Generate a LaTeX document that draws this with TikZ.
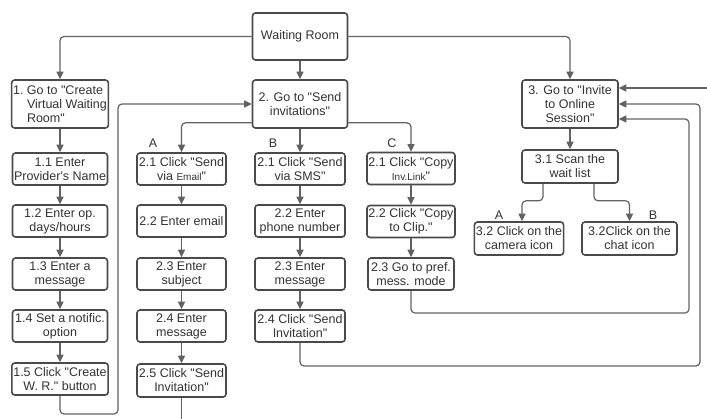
\documentclass[tikz,border=0pt]{standalone}
\usepackage{fontspec}
\setmainfont{Liberation Sans}
\usepackage{xcolor}
\usepackage{tikz}
\usetikzlibrary{arrows.meta}
\usetikzlibrary{calc}
\usetikzlibrary{positioning}
\definecolor{boxgray}{HTML}{4A4A4A}
\definecolor{linegray}{HTML}{626262}
\tikzset{
    bignode/.style = {rectangle, rounded corners=3pt, draw=boxgray, line width=1.6pt, align=center, fill=white, text=black!80, minimum width=95pt, minimum height=48pt, inner sep=1.5pt},
    stepnode/.style = {rectangle, rounded corners=3pt, draw=boxgray, line width=1.6pt, align=center, fill=white, text=black!80, minimum height=32pt, inner sep=1.5pt},
    lbl/.style = {text=black!80},
}
\newcommand{\smalltxt}[1]{{\fontsize{10}{14}\selectfont #1}}
\newcommand{\qq}{\textquotedbl}
\newcommand{\ap}{\textquotesingle}

\begin{document}
\begin{tikzpicture}[
	x=1pt, y=-1pt,
	font=\fontsize{12.5}{14}\selectfont,
	>={Triangle[length=7.5pt,width=7pt]}
]
\tikzset{
    edgea/.style = {->, line width=1.2pt, draw=linegray, rounded corners=4pt},
    edgen/.style = {-, line width=1.2pt, draw=linegray, rounded corners=4pt},
}
\useasboundingbox (0,0) rectangle (707,418);
\node[bignode, minimum height=47pt] at (300,36.5) (wr) {Waiting Room};
\node[bignode, minimum width=96pt, align=left] at (60,104) (s1) {1.~Go to \qq Create\\\phantom{1.~}Virtual Waiting\\\phantom{1.~}Room\qq};
\node[bignode] at (300,104) (s2) {2. Go to \qq Send\\invitations\qq};
\node[bignode, minimum width=96pt] at (570,104) (s3) {3. Go to \qq Invite\\to Online\\Session\qq};
%
\node[stepnode, minimum width=95pt] at (60,169) (s11) {1.1 Enter\\Provider\ap s Name};
\node[stepnode, minimum width=95pt] at (60,221) (s12) {1.2 Enter op.\\days/hours};
\node[stepnode, minimum width=95pt] at (60,274) (s13) {1.3 Enter a\\message};
\node[stepnode, minimum width=95pt] at (60,326) (s14) {1.4 Set a notific.\\option};
\node[stepnode, minimum width=95pt] at (60,379) (s15) {1.5 Click \qq Create\\W. R.\qq\ button};
%
\node[stepnode, minimum width=89pt] at (181.5,169) (a1) {2.1 Click \qq Send\\via \smalltxt{Email}\qq};
\node[stepnode, minimum width=89pt] at (181.5,221) (a2) {2.2 Enter email};
\node[stepnode, minimum width=89pt] at (181.5,274) (a3) {2.3 Enter\\subject};
\node[stepnode, minimum width=89pt] at (181.5,326) (a4) {2.4 Enter\\message};
\node[stepnode, minimum width=89pt, minimum height=33pt] at (181.5,380.5) (a5) {2.5 Click \qq Send\\Invitation\qq};
%
\node[stepnode, minimum width=90pt] at (300,169) (b1) {2.1 Click \qq Send\\via SMS\qq};
\node[stepnode, minimum width=90pt] at (300,221) (b2) {2.2 Enter\\phone number};
\node[stepnode, minimum width=90pt] at (300,274) (b3) {2.3 Enter\\message};
\node[stepnode, minimum width=90pt] at (300,326) (b4) {2.4 Click \qq Send\\Invitation\qq};
%
\node[stepnode, minimum width=86pt] at (411,168.5) (c1) {2.1 Click \qq Copy\\\smalltxt{Inv.Link}\qq};
\node[stepnode, minimum width=86pt] at (411,221.5) (c2) {2.2 Click \qq Copy\\to Clip.\qq};
\node[stepnode, minimum width=86pt] at (411,274) (c3) {2.3 Go to pref.\\mess. mode};
%
\node[stepnode, minimum width=96pt, minimum height=33pt] at (570,166.5) (s31) {3.1 Scan the\\wait list};
\node[stepnode, minimum width=88pt, minimum height=33pt] at (519,238.5) (s32a) {3.2 Click on the\\camera icon};
\node[stepnode, minimum width=95pt, minimum height=33pt] at (629.5,238.5) (s32b) {3.2Click on the\\chat icon};
%
\node[lbl] at (153,143) (la) {A};
\node[lbl] at (273,143) (lb) {B};
\node[lbl] at (392,143) (lc) {C};
\node[lbl] at (499,215) (la3) {A};
\node[lbl] at (653,215) (lb3) {B};
%
\coordinate (back1) at (118,414);
\coordinate (offA) at (181.5,419);
\coordinate (ret2) at (700,366);
\coordinate (ret3) at (689,313);
\coordinate (offR) at (708,88);
%
\draw[edgea] (wr.west) -| (s1.north);
\draw[edgea] (wr.east) -| (s3.north);
\draw[edgea] (wr) -- (s2);
%
\draw[edgea] (s1) -- (s11);
\draw[edgea] (s11) -- (s12);
\draw[edgea] (s12) -- (s13);
\draw[edgea] (s13) -- (s14);
\draw[edgea] (s14) -- (s15);
\draw[edgea] (s15.south) |- (back1) |- (s2.west);
%
\draw[edgea] ($(s2.south west)+(0,-6)$) -| (a1.north);
\draw[edgea] (s2) -- (b1);
\draw[edgea] ($(s2.south east)+(0,-6)$) -| (c1.north);
%
\draw[edgea] (a1) -- (a2);
\draw[edgea] (a2) -- (a3);
\draw[edgea] (a3) -- (a4);
\draw[edgea] (a4) -- (a5);
\draw[edgen] (a5.south) -- (offA);
%
\draw[edgea] (b1) -- (b2);
\draw[edgea] (b2) -- (b3);
\draw[edgea] (b3) -- (b4);
\draw[edgea] (b4.south) |- (ret2) |- (s3.east);
%
\draw[edgea] (c1) -- (c2);
\draw[edgea] (c2) -- (c3);
\draw[edgea] (c3.south) |- (ret3) |- ($(s3.east)+(0,15)$);
%
\draw[edgea] (offR) -- ($(s3.east)+(0,-16)$);
\draw[edgea] (s3) -- (s31);
\draw[edgea] ($(s31.south)+(-27,0)$) -- ++(0,17) -| ($(s32a.north)+(3,0)$);
\draw[edgea] ($(s31.south)+(24,0)$) -- ++(0,17) -| (s32b.north);
\end{tikzpicture}
\end{document}
